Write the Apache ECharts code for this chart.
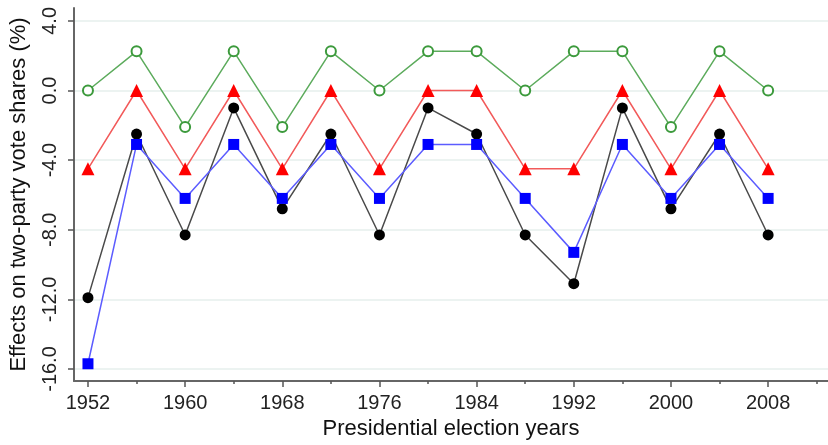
<!DOCTYPE html>
<html>
<head>
<meta charset="utf-8">
<script src="https://cdn.jsdelivr.net/npm/echarts@6/dist/echarts.min.js"></script>
<style>
  html, body { margin: 0; padding: 0; background: #ffffff; }
  #chart { width: 828px; height: 445px; }
</style>
</head>
<body>
<div id="chart"></div>
<script>
// Election years on the horizontal axis
const years = [1952, 1956, 1960, 1964, 1968, 1972, 1976, 1980, 1984, 1988, 1992, 1996, 2000, 2004, 2008];

// Estimated effects (%) for each year, one list per series
const greenCircles = [0, 2.25, -2.1, 2.25, -2.1, 2.25, 0, 2.25, 2.25, 0, 2.25, 2.25, -2.1, 2.25, 0];
const redTriangles = [-4.5, 0, -4.5, 0, -4.5, 0, -4.5, 0, 0, -4.5, -4.5, 0, -4.5, 0, -4.5];
const blackCircles = [-11.9, -2.5, -8.3, -1.0, -6.8, -2.5, -8.3, -1.0, -2.5, -8.3, -11.1, -1.0, -6.8, -2.5, -8.3];
const blueSquares = [-15.7, -3.1, -6.2, -3.1, -6.2, -3.1, -6.2, -3.1, -3.1, -6.2, -9.3, -3.1, -6.2, -3.1, -6.2];

// Tick positions
const xLabelYears = [1952, 1960, 1968, 1976, 1984, 1992, 2000, 2008];
const xMinorYears = [1956, 1964, 1972, 1980, 1988, 1996, 2004, 2012];
const yTickValues = [-16, -12, -8, -4, 0, 4];

const pairs = arr => years.map((y, i) => [y, arr[i]]);

const FONT = 'Liberation Sans, Arial, Helvetica, sans-serif';
const chart = echarts.init(document.getElementById('chart'), null, { renderer: 'canvas' });

chart.setOption({
  animation: false,
  backgroundColor: '#ffffff',
  grid: { left: 72, right: 0, top: 8, bottom: 62, containLabel: false },
  xAxis: [
    {
      type: 'value',
      min: 1950.85,
      max: 2012.93,
      name: 'Presidential election years',
      nameLocation: 'middle',
      nameGap: 37,
      nameTextStyle: { fontFamily: FONT, fontSize: 22, color: '#111' },
      axisLine: { show: true, onZero: false, lineStyle: { color: '#666', width: 2 } },
      axisTick: { show: true, customValues: xLabelYears, length: 6, lineStyle: { color: '#555', width: 1.5 } },
      axisLabel: {
        customValues: xLabelYears,
        margin: 12,
        fontFamily: FONT, fontSize: 20, color: '#222',
        formatter: v => String(v)
      },
      splitLine: { show: false }
    },
    {
      // unlabeled in-between years: short ticks only
      type: 'value',
      min: 1950.85,
      max: 2012.93,
      position: 'bottom',
      axisLine: { show: false, onZero: false },
      axisTick: { show: true, customValues: xMinorYears, length: 3, lineStyle: { color: '#555', width: 1.5 } },
      axisLabel: { show: false },
      splitLine: { show: false }
    }
  ],
  yAxis: {
    type: 'value',
    min: -16.69,
    max: 4.74,
    name: 'Effects on two-party vote shares (%)',
    nameLocation: 'middle',
    nameGap: 44,
    nameRotate: 90,
    nameTextStyle: { fontFamily: FONT, fontSize: 22, color: '#111' },
    axisLine: { show: true, onZero: false, lineStyle: { color: '#666', width: 2 } },
    axisTick: { show: true, customValues: yTickValues, length: 6, lineStyle: { color: '#555', width: 1.5 } },
    axisLabel: {
      customValues: yTickValues,
      rotate: 90,
      margin: 14,
      fontFamily: FONT, fontSize: 20, color: '#222',
      formatter: v => v.toFixed(1)
    },
    splitLine: { show: true, lineStyle: { color: '#e6efec', width: 1.5 } }
  },
  series: [
    {
      name: 'black',
      type: 'line',
      data: pairs(blackCircles),
      symbol: 'circle',
      symbolSize: 11,
      itemStyle: { color: '#000000' },
      lineStyle: { color: '#4a4a4a', width: 1.5 },
      z: 2
    },
    {
      name: 'blue',
      type: 'line',
      data: pairs(blueSquares),
      symbol: 'rect',
      symbolSize: 11,
      itemStyle: { color: '#0000ff' },
      lineStyle: { color: '#5c5cff', width: 1.5 },
      z: 3
    },
    {
      name: 'red',
      type: 'line',
      data: pairs(redTriangles),
      symbol: 'triangle',
      symbolSize: 13,
      itemStyle: { color: '#ff0000' },
      lineStyle: { color: '#f25a5a', width: 1.5 },
      z: 4
    },
    {
      name: 'green',
      type: 'line',
      data: pairs(greenCircles),
      symbol: 'emptyCircle',
      symbolSize: 10,
      itemStyle: { color: '#3c9a3c', borderColor: '#3c9a3c', borderWidth: 2 },
      lineStyle: { color: '#5cab5c', width: 1.5 },
      z: 5
    }
  ]
});
</script>
</body>
</html>
